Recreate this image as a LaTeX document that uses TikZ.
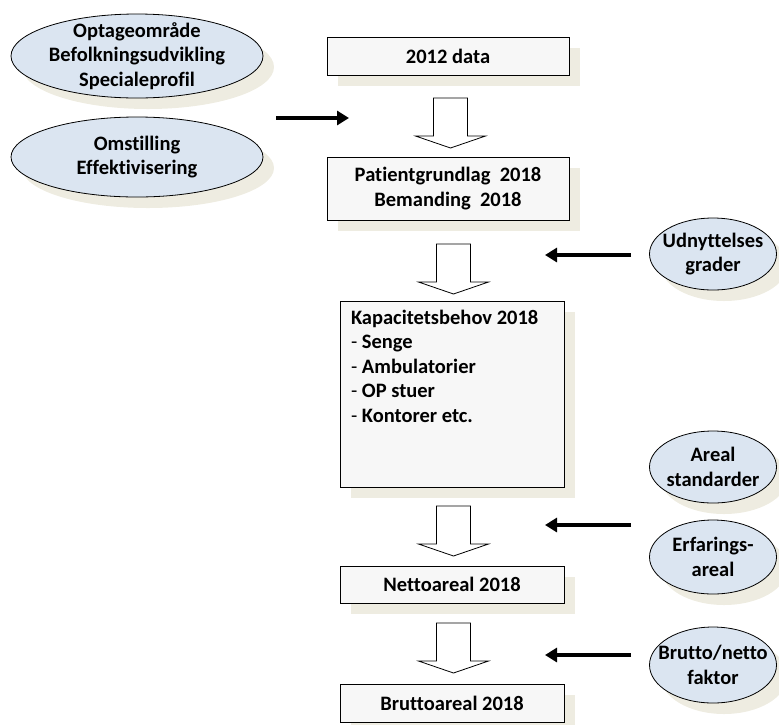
\documentclass[tikz,border=0pt]{standalone}
\usepackage{fontspec}
\setmainfont{Carlito}[Ligatures={NoCommon}, RawFeature={-calt}]
\usetikzlibrary{arrows.meta, positioning, shapes.geometric, shadows}
\definecolor{cblue}{HTML}{DBE5F1}
\definecolor{cbox}{HTML}{F7F7F7}
\definecolor{cshadow}{HTML}{EEECE1}
\tikzset{
  every picture/.style={font=\bfseries\fontsize{20.5}{24.5}\selectfont, line width=0.8pt, x=1pt, y=-1pt},
  castshadow/.style={drop shadow={shadow xshift=11pt, shadow yshift=-11pt, fill=cshadow, opacity=1}},
  box/.style={draw=black, fill=cbox, castshadow, align=center, inner sep=0pt, minimum width=#1},
  box/.default=224pt,
  factor/.style={ellipse, draw=black, fill=cblue, castshadow, inner sep=0pt, label={[align=center]center:#1}},
  arrow/.style={-{Triangle[length=12pt, width=14pt]}, line width=4pt},
  hollow/.pic={\draw[fill=white, line width=0.8pt] (-17,0) -- (-17,38) -- (-35,38) -- (0,50) -- (35,38) -- (17,38) -- (17,0) -- cycle;},
}
\begin{document}
\begin{tikzpicture}
  \useasboundingbox (0,0) rectangle (779,724);
  \node[factor={Optageområde\\Befolkningsudvikling\\Specialeprofil}, minimum width=252pt, minimum height=84pt] (optag) at (137,56) {};
  \node[factor={Omstilling\\Effektivisering}, minimum width=252pt, minimum height=80pt] (omst) at (137,157) {};
  \node[box=242pt, minimum height=38pt] (data) at (448,56) {2012 data};
  \node[box=242pt, minimum height=63pt] (grund) at (448,188.5) {Patientgrundlag\ \ 2018\\Bemanding\ \ 2018};
  \node[box, minimum height=186pt] (kap) at (452,394) {};
  \node[anchor=north west, align=left, inner sep=0pt] (kaptxt) at ([shift={(11,9)}]kap.north west)
    {Kapacitetsbehov 2018\\\textmd{-} Senge\\\textmd{-} Ambulatorier\\\textmd{-} OP stuer\\\textmd{-} Kontorer etc.};
  \node[box, minimum height=37pt] (netto) at (452,584.5) {Nettoareal 2018};
  \node[box, minimum height=38pt] (brutto) at (452,703) {Bruttoareal 2018};
  \node[factor={Udnyttelses\\grader}, minimum width=127pt, minimum height=72pt] (udn) at (713,254) {};
  \node[factor={Areal\\standarder}, minimum width=127pt, minimum height=72pt] (areal) at (713,467) {};
  \node[factor={Erfarings-\\areal}, minimum width=127pt, minimum height=74pt] (erf) at (713,557) {};
  \node[factor={Brutto/netto\\faktor}, minimum width=127pt, minimum height=76pt] (bn) at (713,665) {};
  \pic (s1) at (450.5,98) {hollow};
  \pic (s2) at (453.5,244) {hollow};
  \pic (s3) at (453.5,506) {hollow};
  \pic (s4) at (453.5,623) {hollow};
  \coordinate (fromleft) at (276,118);
  \coordinate (toleft) at (349,118);
  \coordinate (fromudn) at (631,255);
  \coordinate (toudn) at (545,255);
  \coordinate (fromareal) at (631,525);
  \coordinate (toareal) at (545,525);
  \coordinate (frombn) at (631,655);
  \coordinate (tobn) at (545,655);
  \draw[arrow] (fromleft) -- (toleft);
  \draw[arrow] (fromudn) -- (toudn);
  \draw[arrow] (fromareal) -- (toareal);
  \draw[arrow] (frombn) -- (tobn);
\end{tikzpicture}
\end{document}
